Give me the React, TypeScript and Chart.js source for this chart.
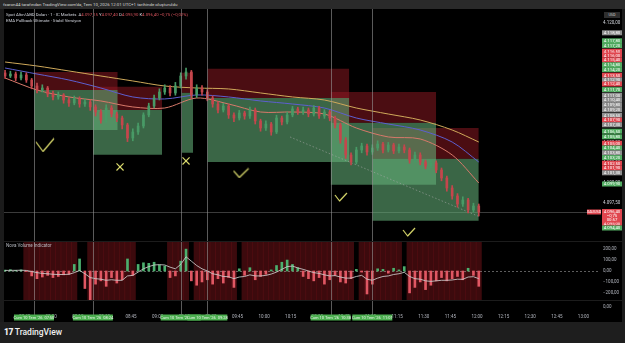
import React, { useEffect, useRef } from 'react';
import { Chart, registerables } from 'chart.js';

Chart.register(...registerables);

// ---------- candles (3-minute slots, minutes of day) ----------
const slotTimes = [
  454, 457, 460, 463, 466, 469, 472, 475, 478, 481,
  484, 487, 490, 493, 496, 499, 502, 505, 508, 511,
  514, 517, 520, 523, 526, 529, 532, 535, 538, 541,
  544, 547, 550, 553, 556, 559, 562, 565, 568, 571,
  574, 577, 580, 583, 586, 589, 592, 595, 598, 601,
  604, 607, 610, 613, 616, 619, 622, 625, 628, 631,
  634, 637, 640, 643, 646, 649, 652, 655, 658, 661,
  664, 667, 670, 673, 676, 679, 682, 685, 688, 691,
  694, 697, 700, 703, 706, 709, 712, 715, 718, 721,
];
const opens = [
  4113.78, 4113.40, 4113.65, 4113.15, 4113.53, 4112.90, 4112.15, 4111.65, 4111.90, 4111.15,
  4110.78, 4111.03, 4110.40, 4110.03, 4110.53, 4109.90, 4110.15, 4109.53, 4108.90, 4107.90,
  4109.40, 4108.65, 4108.15, 4107.28, 4105.65, 4106.40, 4107.15, 4108.53, 4109.65, 4110.65,
  4111.40, 4111.90, 4111.28, 4112.15, 4113.40, 4113.90, 4111.03, 4111.90, 4111.40, 4110.65,
  4109.90, 4109.15, 4109.65, 4108.53, 4108.15, 4108.78, 4108.40, 4109.15, 4107.78, 4106.90,
  4107.40, 4106.40, 4108.15, 4107.65, 4108.53, 4109.28, 4108.90, 4109.15, 4108.65, 4109.40,
  4108.40, 4108.90, 4108.15, 4107.28, 4105.40, 4103.53, 4102.65, 4104.15, 4104.65, 4103.90,
  4104.40, 4104.90, 4104.15, 4104.78, 4104.03, 4104.53, 4104.15, 4102.90, 4103.53, 4102.65,
  4102.15, 4102.53, 4101.65, 4100.65, 4099.40, 4098.40, 4097.40, 4097.90, 4096.65, 4097.15,
];
const highs = [
  4114.1, 4114.0, 4113.9, 4113.9, 4113.8, 4113.1, 4112.5, 4112.3, 4112.1, 4111.5,
  4111.4, 4111.2, 4110.7, 4110.9, 4110.8, 4110.5, 4110.4, 4109.8, 4109.2, 4109.8,
  4109.7, 4108.9, 4108.4, 4107.5, 4106.8, 4107.5, 4108.8, 4110.0, 4111.0, 4111.8,
  4112.3, 4112.2, 4112.6, 4113.8, 4114.4, 4114.1, 4112.3, 4112.2, 4111.7, 4110.9,
  4110.2, 4110.0, 4109.9, 4108.8, 4109.1, 4109.0, 4109.5, 4109.4, 4108.0, 4107.8,
  4107.6, 4108.5, 4108.4, 4108.9, 4109.6, 4109.5, 4109.5, 4109.4, 4109.7, 4109.6,
  4109.2, 4109.1, 4108.4, 4107.5, 4105.7, 4103.8, 4104.5, 4105.0, 4104.9, 4104.8,
  4105.3, 4105.1, 4105.1, 4105.0, 4104.9, 4104.8, 4104.4, 4103.9, 4103.8, 4102.9,
  4102.9, 4102.8, 4101.9, 4100.9, 4099.7, 4098.7, 4098.3, 4098.1, 4097.5, 4097.4,
];
const lows = [
  4113.1, 4113.2, 4112.8, 4112.9, 4112.6, 4111.8, 4111.3, 4111.4, 4110.8, 4110.4,
  4110.5, 4110.0, 4109.6, 4109.8, 4109.5, 4109.6, 4109.1, 4108.4, 4107.5, 4107.6,
  4108.3, 4107.7, 4106.8, 4105.2, 4105.3, 4106.1, 4106.9, 4108.3, 4109.4, 4110.4,
  4111.1, 4110.9, 4111.0, 4111.9, 4113.0, 4110.6, 4110.7, 4111.0, 4110.3, 4109.5,
  4108.8, 4108.9, 4108.1, 4107.7, 4107.9, 4108.0, 4108.1, 4107.4, 4106.5, 4106.6,
  4106.0, 4106.2, 4107.3, 4107.4, 4108.3, 4108.6, 4108.6, 4108.3, 4108.4, 4108.1,
  4108.1, 4107.8, 4106.9, 4105.0, 4103.1, 4102.3, 4102.4, 4103.8, 4103.5, 4103.6,
  4104.1, 4103.8, 4103.9, 4103.7, 4103.8, 4103.8, 4102.5, 4102.6, 4102.3, 4101.8,
  4101.9, 4101.3, 4100.3, 4099.0, 4098.0, 4097.0, 4097.1, 4096.3, 4096.4, 4095.9,
];
const closes = [
  4113.40, 4113.65, 4113.15, 4113.53, 4112.90, 4112.15, 4111.65, 4111.90, 4111.15, 4110.78,
  4111.03, 4110.40, 4110.03, 4110.53, 4109.90, 4110.15, 4109.53, 4108.90, 4107.90, 4109.40,
  4108.65, 4108.15, 4107.28, 4105.65, 4106.40, 4107.15, 4108.53, 4109.65, 4110.65, 4111.40,
  4111.90, 4111.28, 4112.15, 4113.40, 4113.90, 4111.03, 4111.90, 4111.40, 4110.65, 4109.90,
  4109.15, 4109.65, 4108.53, 4108.15, 4108.78, 4108.40, 4109.15, 4107.78, 4106.90, 4107.40,
  4106.40, 4108.15, 4107.65, 4108.53, 4109.28, 4108.90, 4109.15, 4108.65, 4109.40, 4108.40,
  4108.90, 4108.15, 4107.28, 4105.40, 4103.53, 4102.65, 4104.15, 4104.65, 4103.90, 4104.40,
  4104.90, 4104.15, 4104.78, 4104.03, 4104.53, 4104.15, 4102.90, 4103.53, 4102.65, 4102.15,
  4102.53, 4101.65, 4100.65, 4099.40, 4098.40, 4097.40, 4097.90, 4096.65, 4097.15, 4096.40,
];

// ---------- moving averages ----------
const maTimes = [454, 472, 490, 508, 526, 544, 562, 580, 598, 616, 634, 652, 670, 688, 706, 721];
const emaSlow = [4115.15, 4114.65, 4114.03, 4113.40, 4112.78, 4112.15, 4111.90, 4111.78, 4111.28, 4110.78, 4110.40, 4109.40, 4108.65, 4107.90, 4106.65, 4105.15];
const emaMid = [4114.40, 4113.65, 4112.90, 4111.90, 4110.78, 4110.53, 4111.03, 4110.78, 4110.28, 4109.90, 4109.40, 4108.15, 4107.40, 4106.65, 4105.15, 4102.65];
const emaFast = [4113.15, 4111.65, 4110.78, 4110.28, 4109.53, 4109.40, 4110.65, 4109.90, 4108.90, 4108.90, 4108.65, 4106.90, 4105.78, 4105.53, 4103.53, 4100.03];
const trendTimes = [614.6, 721.7];
const trendPrices = [4105.78, 4095.78];

// ---------- position boxes ----------
const boxStart = [470.3, 503.5, 553.5, 568, 637.5, 661];
const boxEnd = [517.5, 542.5, 560, 648, 697, 721];
const boxStop = [4113.90, 4112.05, 4113.80, 4114.30, 4111.40, 4106.90];
const boxEntry = [4111.65, 4109.15, 4111.30, 4110.65, 4107.55, 4103.05];
const boxTarget = [4106.65, 4103.55, 4103.80, 4102.65, 4099.80, 4095.30];

// ---------- signal markers ----------
const signalTimes = [470.3, 503.5, 553, 568, 637.5, 661];
const checkTimes = [476.5, 587, 643.3, 681.7];
const checkPrices = [4104.78, 4101.28, 4098.28, 4093.9];
const crossTimes = [518.8, 556];
const crossPrices = [4102.03, 4102.78];

// ---------- price-axis tags ----------
const tagPrices = [
  4118.8, 4117.8, 4117.2, 4116.5, 4116.0, 4115.4, 4114.8, 4114.2, 4113.5, 4112.9,
  4112.4, 4111.7, 4111.0, 4110.4, 4109.8, 4109.2, 4108.5, 4107.9, 4107.3, 4106.5,
  4105.8, 4105.0, 4104.4, 4103.8, 4103.2, 4102.5, 4101.9, 4101.3, 4099.9, 4095.0, 4094.4,
];
const tagKinds = [
  'n', 'g', 'g', 'r', 'r', 'r', 'g', 'g', 'r', 'n',
  'r', 'g', 'n', 'n', 'n', 'n', 'n', 'r', 'n', 'g',
  'g', 'r', 'g', 'n', 'g', 'r', 'r', 'n', 'g', 'r', 'g',
];
const lastPrice = 4096.4;

// ---------- volume indicator ----------
const histValues = [
  8, 12, 6, 10, -5,
  -45, -70, -55, -40, -60, -50, -35, -30,
  60, 110,
  -160, -270, -120, -90, -140, -60, -110, -80,
  110, -40,
  60, 75, 70, 80, 55, 45,
  -60, -45,
  90, 200,
  -90, -130, -100, -80, -120, -70, -110, -60, -150,
  20, -40, 30, -80, -50, -30, 10,
  50, 80, 100, 60,
  30, -50, -70, -90, -60, -120, -80,
  -40, -100, -110, -70,
  15, -10,
  -210, -120,
  20, 15, -20, 25, 10,
  40,
  -200, -150, -100, -170, -130, -90,
  -60, -90, -70, -50, -80,
  25, -40, -140,
];
const signalValues = [
  5, 6, 6, 7, 5,
  -5, -15, -22, -25, -30, -32, -32, -30,
  -15, 5,
  -25, -60, -70, -75, -85, -80, -85, -85,
  -45, -40,
  -10, 20, 40, 55, 58, 55,
  35, 20,
  60, 130,
  90, 50, 20, 0, -25, -35, -50, -52, -70,
  -55, -50, -35, -45, -45, -40, -28,
  -10, 15, 40, 45,
  28, 15, 0, -15, -22, -35, -45,
  -42, -55, -65, -65,
  -50, -40,
  -75, -85,
  -65, -50, -45, -32, -25,
  -12,
  -50, -70, -75, -90, -95, -90,
  -85, -85, -82, -75, -76,
  -55, -52, -70,
];
const bearZone = [
  0, 0, 0, 0,
  1, 1, 1, 1, 1, 1, 1, 1, 1, 1,
  0, 0,
  1, 1, 1, 1, 1, 1, 1, 1, 1,
  0, 0, 0, 0, 0, 0,
  1, 1, 1, 1,
  0,
  1, 1, 1, 1, 1, 1, 1, 1,
  0,
  1, 1, 1, 1, 1, 1, 1, 1, 1, 1, 1, 1, 1, 1, 1, 1, 1, 1, 1, 1, 1,
  0,
  1, 1, 1, 1, 1, 1, 1, 1,
  0,
  1, 1, 1, 1, 1, 1, 1, 1, 1, 1, 1, 1, 1, 1,
];
const indTicks = [-200, -100, 0, 100, 200];

// ---------- axis ranges ----------
const X_MIN = 453.4;
const X_MAX = 788.2;
const P_MIN = 4092.9;
const P_MAX = 4121.65;
const V_MIN = -265;
const V_MAX = 265;

const FONT = "Roboto, 'Noto Sans', 'DejaVu Sans', sans-serif";
const UP = '#489a66';
const DOWN = '#c4464c';
const YEL = '#dada6c';
const TAG_COLORS: Record<string, string> = { g: '#52ad62', r: '#e0464f', n: '#8f8f8f' };

const fmt = (v: number, d = 2) => {
  const neg = v < 0;
  const s = Math.abs(v).toFixed(d);
  const [ip, dp] = s.split('.');
  const ipf = ip.replace(/\B(?=(\d{3})+(?!\d))/g, '.');
  return (neg ? '\u2212' : '') + ipf + (dp ? ',' + dp : '');
};
const hhmm = (t: number) => {
  const m = Math.round(t);
  return String(Math.floor(m / 60)).padStart(2, '0') + ':' + String(m % 60).padStart(2, '0');
};

const fixY = (s: any) => {
  s.width = 27;
  s.paddingTop = 0;
  s.paddingBottom = 0;
};

function drawVLines(chart: any, top: number, bottom: number) {
  const { ctx } = chart;
  const x = chart.scales.x;
  ctx.save();
  ctx.strokeStyle = 'rgba(150,150,150,0.6)';
  ctx.lineWidth = 1;
  signalTimes.forEach((t) => {
    const px = Math.round(x.getPixelForValue(t)) + 0.5;
    ctx.beginPath();
    ctx.moveTo(px, top);
    ctx.lineTo(px, bottom);
    ctx.stroke();
  });
  ctx.restore();
}

const mainDeco = {
  id: 'mainDeco',
  beforeDatasetsDraw(chart: any) {
    const { ctx, chartArea } = chart;
    const py = Math.round(chart.scales.y.getPixelForValue(lastPrice)) + 0.5;
    ctx.save();
    ctx.strokeStyle = 'rgba(130,130,130,0.45)';
    ctx.lineWidth = 1;
    ctx.beginPath();
    ctx.moveTo(chartArea.left, py);
    ctx.lineTo(chartArea.right, py);
    ctx.stroke();
    ctx.restore();
  },
  afterDatasetsDraw(chart: any) {
    drawVLines(chart, 0, chart.height);
  },
  afterDraw(chart: any) {
    const { ctx } = chart;
    const y = chart.scales.y;
    ctx.save();
    ctx.textAlign = 'center';
    ctx.textBaseline = 'middle';
    ctx.font = `4.3px ${FONT}`;
    tagPrices.forEach((p, i) => {
      const py = y.getPixelForValue(p);
      ctx.fillStyle = TAG_COLORS[tagKinds[i]];
      ctx.fillRect(602, py - 2.5, 20, 5);
      ctx.fillStyle = '#ffffff';
      ctx.fillText(fmt(p), 612, py + 0.3);
    });
    const lp = y.getPixelForValue(lastPrice);
    ctx.fillStyle = '#e0464f';
    ctx.fillRect(602, lp - 3, 20, 13.5);
    ctx.fillRect(587, lp - 2.5, 14, 5);
    ctx.fillStyle = '#ffffff';
    ctx.fillText(fmt(lastPrice), 612, lp + 0.2);
    ctx.fillText(fmt(closes[closes.length - 1] - opens[opens.length - 1]), 612, lp + 4.3);
    ctx.fillText('00:57', 612, lp + 8.4);
    ctx.font = `3.8px ${FONT}`;
    ctx.fillText('XAUUSD', 594, lp + 0.2);
    ctx.restore();
  },
};

const lowerDeco = {
  id: 'lowerDeco',
  beforeDatasetDraw(chart: any, args: any) {
    if (args.index !== 1) return;
    const { ctx, chartArea } = chart;
    const py = Math.round(chart.scales.y.getPixelForValue(0)) + 0.5;
    ctx.save();
    ctx.strokeStyle = 'rgba(170,170,170,0.55)';
    ctx.setLineDash([2, 2]);
    ctx.beginPath();
    ctx.moveTo(chartArea.left, py);
    ctx.lineTo(chartArea.right, py);
    ctx.stroke();
    ctx.restore();
  },
  afterDatasetsDraw(chart: any) {
    drawVLines(chart, 0, chart.chartArea.bottom + 15);
  },
  afterDraw(chart: any) {
    const { ctx, chartArea } = chart;
    const x = chart.scales.x;
    ctx.save();
    ctx.fillStyle = '#1c1c1c';
    ctx.fillRect(0, 0, chart.width, 1);
    ctx.fillRect(0, chartArea.bottom, chart.width, 1);
    ctx.font = `4.5px ${FONT}`;
    ctx.textBaseline = 'middle';
    ctx.textAlign = 'left';
    ctx.fillStyle = '#b8bbc2';
    ctx.fillText('Nova Volume Indicator', 6, 5);
    ctx.fillStyle = '#b2b5be';
    ctx.fillText(fmt(0), 603, chartArea.bottom + 7);
    ctx.textAlign = 'center';
    signalTimes.forEach((t) => {
      const px = x.getPixelForValue(t);
      ctx.fillStyle = '#4caf50';
      ctx.fillRect(px - 20, chartArea.bottom + 14.5, 40, 6);
      ctx.fillStyle = '#eaf6ea';
      ctx.font = `4px ${FONT}`;
      ctx.fillText(`Cum 10 Tem '26  ${hhmm(t)}`, px, chartArea.bottom + 17.6);
    });
    ctx.restore();
  },
};

function mkCheck(w: number, h: number) {
  const c = document.createElement('canvas');
  c.width = w;
  c.height = h;
  const g = c.getContext('2d')!;
  g.strokeStyle = YEL;
  g.lineWidth = 1.2;
  g.lineJoin = 'round';
  g.beginPath();
  g.moveTo(1, h * 0.3);
  g.lineTo(w * 0.4, h - 1);
  g.lineTo(w - 1, 1);
  g.stroke();
  return c;
}

export default function App() {
  const mainRef = useRef<HTMLCanvasElement>(null);
  const lowRef = useRef<HTMLCanvasElement>(null);

  useEffect(() => {
    Chart.defaults.font.family = FONT;
    const candleColor = slotTimes.map((_, i) => (closes[i] >= opens[i] ? UP : DOWN));
    const checks = [mkCheck(20, 15), mkCheck(17, 11), mkCheck(14, 10), mkCheck(14, 10)];

    const boxSets: any[] = [];
    boxStart.forEach((s, k) => {
      boxSets.push({
        type: 'line',
        data: [{ x: s, y: boxStop[k] }, { x: boxEnd[k], y: boxStop[k] }],
        fill: { value: boxEntry[k] },
        backgroundColor: 'rgba(150,25,35,0.5)',
        borderColor: 'transparent',
        borderWidth: 0,
        pointRadius: 0,
        order: 10,
      });
      boxSets.push({
        type: 'line',
        data: [{ x: s, y: boxEntry[k] }, { x: boxEnd[k], y: boxEntry[k] }],
        fill: { value: boxTarget[k] },
        backgroundColor: 'rgba(100,175,120,0.58)',
        borderColor: 'transparent',
        borderWidth: 0,
        pointRadius: 0,
        order: 10,
      });
    });

    const maLine = (vals: number[], color: string) => ({
      type: 'line',
      data: maTimes.map((t, i) => ({ x: t, y: vals[i] })),
      borderColor: color,
      borderWidth: 1,
      pointRadius: 0,
      fill: false,
      tension: 0.3,
      order: 5,
    });

    const main = new Chart(mainRef.current!, {
      type: 'bar',
      data: {
        datasets: [
          ...boxSets,
          {
            type: 'line',
            data: trendTimes.map((t, i) => ({ x: t, y: trendPrices[i] })),
            borderColor: 'rgba(170,170,170,0.55)',
            borderWidth: 1,
            borderDash: [1.5, 2],
            pointRadius: 0,
            fill: false,
            order: 6,
          },
          maLine(emaSlow, '#cfa95a'),
          maLine(emaMid, '#5d5fcf'),
          maLine(emaFast, '#d8796a'),
          {
            type: 'bar',
            data: slotTimes.map((t, i) => ({ x: t, y: [lows[i], highs[i]] })),
            backgroundColor: candleColor,
            barThickness: 1,
            grouped: false,
            order: 2,
          },
          {
            type: 'bar',
            data: slotTimes.map((t, i) => ({ x: t, y: [opens[i], closes[i]] })),
            backgroundColor: candleColor,
            barThickness: 2,
            grouped: false,
            minBarLength: 1,
            order: 1,
          },
          {
            type: 'scatter',
            data: checkTimes.map((t, i) => ({ x: t, y: checkPrices[i] })),
            pointStyle: checks,
            pointRadius: 6,
            order: 0,
          },
          {
            type: 'scatter',
            data: crossTimes.map((t, i) => ({ x: t, y: crossPrices[i] })),
            pointStyle: 'crossRot',
            pointRadius: 5,
            borderColor: YEL,
            borderWidth: 1.2,
            order: 0,
          },
        ] as any,
      },
      options: {
        animation: false,
        responsive: false,
        events: [],
        layout: { autoPadding: false, padding: { top: 1, bottom: 1, left: 4, right: 0 } },
        plugins: { legend: { display: false }, tooltip: { enabled: false } },
        scales: {
          x: { type: 'linear', display: false, min: X_MIN, max: X_MAX, offset: false },
          y: {
            position: 'right',
            min: P_MIN,
            max: P_MAX,
            grid: { display: false, drawTicks: false },
            border: { display: false },
            afterFit: fixY,
            ticks: {
              stepSize: 2.5,
              includeBounds: false,
              padding: 5,
              color: '#d1d4dc',
              font: { size: 4.5 },
              callback: (v: any) => fmt(Number(v)),
            },
          },
        },
      } as any,
      plugins: [mainDeco],
    });

    const low = new Chart(lowRef.current!, {
      type: 'bar',
      data: {
        datasets: [
          {
            type: 'bar',
            data: slotTimes.map((t, i) => ({ x: t, y: bearZone[i] ? [V_MIN, V_MAX] : null })),
            backgroundColor: 'rgba(110,18,24,0.55)',
            barPercentage: 1,
            categoryPercentage: 1,
            grouped: false,
            order: 3,
          },
          {
            type: 'bar',
            data: slotTimes.map((t, i) => ({ x: t, y: histValues[i] })),
            backgroundColor: histValues.map((v) => (v >= 0 ? '#4caf6e' : '#e05763')),
            barThickness: 2,
            grouped: false,
            order: 2,
          },
          {
            type: 'line',
            data: slotTimes.map((t, i) => ({ x: t, y: signalValues[i] })),
            borderColor: 'rgba(205,205,205,0.85)',
            borderWidth: 1,
            pointRadius: 0,
            fill: false,
            order: 1,
          },
        ] as any,
      },
      options: {
        animation: false,
        responsive: false,
        events: [],
        layout: { autoPadding: false, padding: { top: 1, bottom: 2, left: 4, right: 0 } },
        plugins: { legend: { display: false }, tooltip: { enabled: false } },
        scales: {
          x: {
            type: 'linear',
            min: X_MIN,
            max: X_MAX,
            offset: false,
            grid: { display: false, drawTicks: false },
            border: { display: false },
            afterFit: (s: any) => { s.height = 20; s.paddingLeft = 0; s.paddingRight = 0; },
            ticks: {
              stepSize: 15,
              includeBounds: false,
              autoSkip: false,
              maxRotation: 0,
              padding: 14,
              color: '#b2b5be',
              font: { size: 4.5 },
              callback: (v: any) => hhmm(Number(v)),
            },
          },
          y: {
            position: 'right',
            min: V_MIN,
            max: V_MAX,
            grid: { display: false, drawTicks: false },
            border: { display: false },
            afterFit: fixY,
            afterBuildTicks: (s: any) => { s.ticks = indTicks.map((v) => ({ value: v })); },
            ticks: {
              padding: 5,
              color: '#b2b5be',
              font: { size: 4.5 },
              callback: (v: any) => fmt(Number(v)),
            },
          },
        },
      } as any,
      plugins: [lowerDeco],
    });

    return () => {
      main.destroy();
      low.destroy();
    };
  }, []);

  const o = opens[opens.length - 1];
  const h = highs[highs.length - 1];
  const l = lows[lows.length - 1];
  const c = closes[closes.length - 1];
  const red = '#d9535d';

  return (
    <div style={{ position: 'fixed', left: 0, top: 0, width: 625, height: 343, background: '#000', overflow: 'hidden', fontFamily: FONT }}>
      <div style={{ position: 'absolute', left: 0, top: 0, width: 625, height: 9, background: '#2a2a2a', color: '#d6d6d6', fontSize: 4.4, lineHeight: '9px', paddingLeft: 3, whiteSpace: 'nowrap', boxSizing: 'border-box' }}>
        fxaron44 tarafından TradingView.com'da, Tem 10, 2026 12:01 UTC+1 tarihinde oluşturuldu
      </div>
      <canvas ref={mainRef} width={625} height={232} style={{ position: 'absolute', left: 0, top: 9, width: 625, height: 232 }} />
      <canvas ref={lowRef} width={625} height={81} style={{ position: 'absolute', left: 0, top: 241, width: 625, height: 81 }} />
      <div style={{ position: 'absolute', left: 6, top: 11.5, color: '#d1d4dc', fontSize: 4.3, lineHeight: '6px', whiteSpace: 'nowrap' }}>
        <div>
          Spot Altın/ABD Doları · 1 · IC Markets&nbsp;&nbsp;A<span style={{ color: red }}>{fmt(o)}</span> Y<span style={{ color: red }}>{fmt(h)}</span> D<span style={{ color: red }}>{fmt(l)}</span> K<span style={{ color: red }}>{fmt(c)}</span>{' '}
          <span style={{ color: red }}>{fmt(c - o)} ({fmt(((c - o) / o) * 100)}%)</span>
        </div>
        <div>EMA Pullback Ultimate · Stabil Versiyon</div>
      </div>
      <div style={{ position: 'absolute', left: 604, top: 12, width: 16, height: 6, background: '#2e2e2e', color: '#c8c8c8', fontSize: 3.8, lineHeight: '6px', textAlign: 'center' }}>USD</div>
      <div style={{ position: 'absolute', left: 0, top: 9, width: 4, height: 313, background: '#1b1b1b' }} />
      <div style={{ position: 'absolute', left: 622, top: 9, width: 3, height: 313, background: '#1b1b1b' }} />
      <div style={{ position: 'absolute', left: 0, top: 322, width: 625, height: 21, background: '#1e1e1e' }}>
        <div style={{ position: 'absolute', left: 4, top: 5, color: '#f0f0f0', fontSize: 8.5, lineHeight: '10px', whiteSpace: 'nowrap', fontWeight: 500 }}>
          <span style={{ fontWeight: 900, letterSpacing: -0.5 }}>17</span> TradingView
        </div>
      </div>
    </div>
  );
}
